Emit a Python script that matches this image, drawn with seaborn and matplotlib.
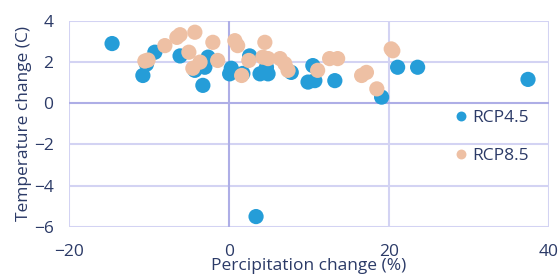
import pandas as pd
import seaborn as sns
import matplotlib.pyplot as plt

# ===== Data =====
rcp45_precip = [-14.6, -10.75, -10.3, -9.25, -6.1, -4.25, -3.0, -2.6, -3.25,
                0.1, 0.3, 1.75, 2.6, 3.9, 4.7, 4.9, 7.8, 9.9, 10.75, 10.5,
                13.25, 19.1, 21.1, 23.6, 37.4, 3.4]
rcp45_temp = [2.9, 1.35, 1.9, 2.48, 2.3, 1.6, 1.75, 2.24, 0.87,
              1.43, 1.7, 1.45, 2.3, 1.43, 1.75, 1.43, 1.5, 1.03, 1.1, 1.83,
              1.1, 0.3, 1.75, 1.75, 1.16, -5.5]

rcp85_precip = [-10.1, -10.5, -8.0, -6.5, -6.1, -4.25, -5.0, -2.0, -3.6, -4.5,
                -1.4, 0.75, 1.1, 1.6, 2.5, 4.5, 4.25, 4.9, 6.4, 7.0, 7.4,
                11.1, 12.6, 13.6, 16.6, 17.2, 18.5, 20.3, 20.5]
rcp85_temp = [2.1, 2.05, 2.8, 3.2, 3.33, 3.45, 2.48, 2.96, 2.0, 1.7,
              2.08, 3.04, 2.8, 1.35, 2.08, 2.96, 2.24, 2.17, 2.17, 1.92, 1.6,
              1.6, 2.17, 2.17, 1.35, 1.5, 0.7, 2.64, 2.55]

series_names = ["RCP4.5", "RCP8.5"]
series_colors = ["#259dd8", "#eec0a4"]

df = pd.concat([
    pd.DataFrame({"precip": rcp45_precip, "temp": rcp45_temp, "scenario": series_names[0]}),
    pd.DataFrame({"precip": rcp85_precip, "temp": rcp85_temp, "scenario": series_names[1]}),
])

text_color = "#2b3a67"
fs = 12.5
plt.rcParams['font.family'] = ['Open Sans', 'DejaVu Sans']

fig = plt.figure(figsize=(5.6, 2.75), dpi=100)
ax = fig.add_axes([0.123, 0.175, 0.857, 0.749])

sns.scatterplot(data=df, x="precip", y="temp", hue="scenario",
                palette=dict(zip(series_names, series_colors)),
                s=120, linewidth=0, alpha=1, ax=ax, zorder=3)

ax.set_xlim(-20, 40)
ax.set_ylim(-6, 4)
ax.set_xticks([-20, 0, 20, 40])
ax.set_yticks([-6, -4, -2, 0, 2, 4])

# grid lines, zero lines darker
for v in [-20, 20, 40]:
    ax.axvline(v, color="#d3d3f3", lw=1.5, zorder=1)
for v in [-6, -4, -2, 2, 4]:
    ax.axhline(v, color="#d3d3f3", lw=1.5, zorder=1)
ax.axvline(0, color="#aeaee6", lw=1.5, zorder=1)
ax.axhline(0, color="#aeaee6", lw=1.5, zorder=1)

for sp in ax.spines.values():
    sp.set_visible(False)

ax.tick_params(length=0, labelsize=fs, colors=text_color)
ax.tick_params(axis='y', pad=11)
ax.tick_params(axis='x', pad=12)
ax.set_xlabel("Percipitation change (%)", fontsize=fs, color=text_color, labelpad=-1)
ax.set_ylabel("Temperature change (C)", fontsize=fs, color=text_color, labelpad=1)

leg = ax.legend(loc="upper left", bbox_to_anchor=(0.8, 0.566), frameon=False,
                markerscale=0.65, handlelength=1.0, handletextpad=0.1,
                labelspacing=1.25, fontsize=fs, borderaxespad=0, borderpad=0)
for t in leg.get_texts():
    t.set_color(text_color)

fig.savefig("out.png", dpi=100)
